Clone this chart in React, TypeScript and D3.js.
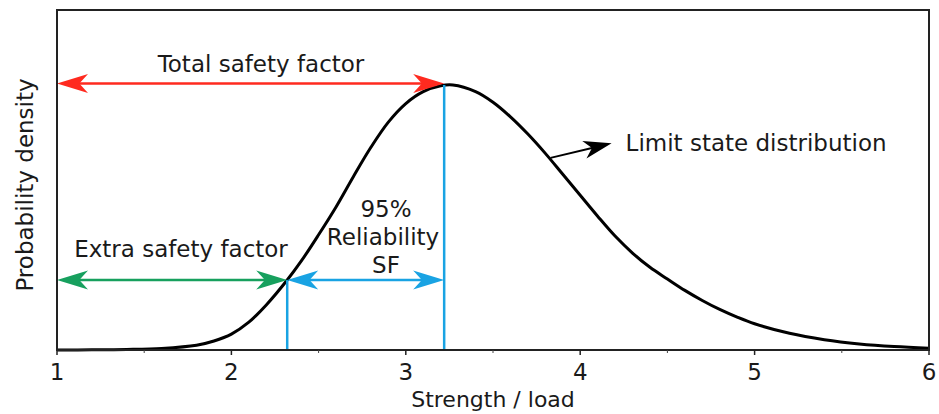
import * as d3 from 'd3';

// Strength / load values and the read-off probability density (peak = 1)
const strength = [1.0, 1.2, 1.4, 1.6, 1.8, 1.9, 2.0, 2.1, 2.2, 2.32, 2.4, 2.5, 2.6, 2.7, 2.8, 2.9, 3.0, 3.1, 3.2, 3.27, 3.4, 3.5, 3.6, 3.7, 3.8, 3.9, 4.0, 4.1, 4.2, 4.3, 4.4, 4.5, 4.6, 4.7, 4.8, 4.9, 5.0, 5.2, 5.4, 5.6, 5.8, 6.0];
const density = [0, 0.0005, 0.002, 0.006, 0.018, 0.034, 0.06, 0.105, 0.17, 0.264, 0.335, 0.435, 0.54, 0.655, 0.765, 0.86, 0.93, 0.975, 0.997, 1.0, 0.975, 0.935, 0.88, 0.815, 0.742, 0.663, 0.584, 0.505, 0.43, 0.366, 0.312, 0.268, 0.225, 0.187, 0.153, 0.124, 0.099, 0.063, 0.039, 0.023, 0.013, 0.007];

const xTicks = [1, 2, 3, 4, 5, 6];
const xMinorTicks = [1.5, 2.5, 3.5, 4.5, 5.5];

// annotation anchors (in data units)
const sf95 = 2.32;
const sfTotal = 3.22;
const peakDensity = 1.0;
const sf95Density = 0.264;
const limitArrow = { from: [3.83, 0.725], to: [4.18, 0.78] };

const W = 939;
const H = 414;
const margin = { top: 10, right: 10, bottom: 64, left: 57 };
const FONT = 'DejaVu Sans, Verdana, sans-serif';

const RED = '#ff2a1f';
const GREEN = '#17a05e';
const BLUE = '#19a3e3';

// swept-back arrowhead pointing in the direction `angle`
function head(x: number, y: number, angle: number, len = 31, half = 9.5) {
  const pts = [
    [0, 0],
    [-len, -half],
    [-len * 0.72, 0],
    [-len, half],
  ].map(([px, py]) => [
    x + px * Math.cos(angle) - py * Math.sin(angle),
    y + px * Math.sin(angle) + py * Math.cos(angle),
  ]);
  return `M${pts.map(p => p.join(',')).join('L')}Z`;
}

function DoubleArrow({ x1, x2, y, color }: { x1: number; x2: number; y: number; color: string }) {
  return (
    <g>
      <line x1={x1 + 20} x2={x2 - 20} y1={y} y2={y} stroke={color} strokeWidth={2.5} />
      <path d={head(x1, y, Math.PI)} fill={color} />
      <path d={head(x2, y, 0)} fill={color} />
    </g>
  );
}

export default function App() {
  const x = d3.scaleLinear().domain([1, 6]).range([margin.left, W - margin.right]);
  const y = d3.scaleLinear().domain([0, 1.283]).range([H - margin.bottom, margin.top]);

  const pts = strength.map((s, i) => [s, density[i]] as [number, number]);
  const line = d3
    .line<[number, number]>()
    .x(d => x(d[0]))
    .y(d => y(d[1]))
    .curve(d3.curveCatmullRom.alpha(0.5));

  const x0 = x.range()[0];
  const x1 = x.range()[1];
  const yb = y(0);
  const yt = y.range()[1];

  const ax1 = x(limitArrow.from[0]);
  const ay1 = y(limitArrow.from[1]);
  const ax2 = x(limitArrow.to[0]);
  const ay2 = y(limitArrow.to[1]);
  const ang = Math.atan2(ay2 - ay1, ax2 - ax1);

  return (
    <div style={{ position: 'fixed', left: 0, top: 0 }}>
      <svg width={W} height={H} style={{ display: 'block', background: '#fff' }} fontFamily={FONT}>
        {/* curve */}
        <path d={line(pts) ?? ''} fill="none" stroke="#000" strokeWidth={3} />

        {/* blue reliability markers */}
        <line x1={x(sfTotal)} x2={x(sfTotal)} y1={y(peakDensity)} y2={yb} stroke={BLUE} strokeWidth={2.5} />
        <line x1={x(sf95)} x2={x(sf95)} y1={y(sf95Density)} y2={yb} stroke={BLUE} strokeWidth={2.5} />

        <DoubleArrow x1={x(1)} x2={x(sfTotal)} y={y(peakDensity) - 1.5} color={RED} />
        <DoubleArrow x1={x(1)} x2={x(sf95)} y={y(sf95Density)} color={GREEN} />
        <DoubleArrow x1={x(sf95)} x2={x(sfTotal)} y={y(sf95Density)} color={BLUE} />

        {/* limit state arrow */}
        <line x1={ax1} y1={ay1} x2={ax2 - 18 * Math.cos(ang)} y2={ay2 - 18 * Math.sin(ang)} stroke="#000" strokeWidth={2} />
        <path d={head(ax2, ay2, ang, 28, 9)} fill="#000" />

        {/* annotation text */}
        <g fontSize={23} fill="#1a1a1a">
          <text x={261} y={72} textAnchor="middle">Total safety factor</text>
          <text x={181} y={257} textAnchor="middle">Extra safety factor</text>
          <text x={386} y={217} textAnchor="middle">95%</text>
          <text x={383} y={245} textAnchor="middle">Reliability</text>
          <text x={386} y={273} textAnchor="middle">SF</text>
          <text x={ax2 + 14} y={151}>Limit state distribution</text>
        </g>

        {/* frame */}
        <rect x={x0} y={yt} width={x1 - x0} height={yb - yt} fill="none" stroke="#222" strokeWidth={2} />

        {/* x ticks */}
        {xTicks.map(t => (
          <g key={t}>
            <line x1={x(t)} x2={x(t)} y1={yb} y2={yb + 5} stroke="#222" strokeWidth={1.5} />
            <text x={x(t)} y={380} textAnchor="middle" fontSize={23} fill="#1a1a1a">{t}</text>
          </g>
        ))}
        {xMinorTicks.map(t => (
          <line key={t} x1={x(t)} x2={x(t)} y1={yb} y2={yb + 3} stroke="#444" strokeWidth={1} />
        ))}

        <text x={(x0 + x1) / 2} y={407} textAnchor="middle" fontSize={22} fill="#1a1a1a">Strength / load</text>
        <text
          transform={`translate(33, ${(yt + yb) / 2 + 5}) rotate(-90)`}
          textAnchor="middle"
          fontSize={23}
          fill="#1a1a1a"
        >
          Probability density
        </text>
      </svg>
    </div>
  );
}
